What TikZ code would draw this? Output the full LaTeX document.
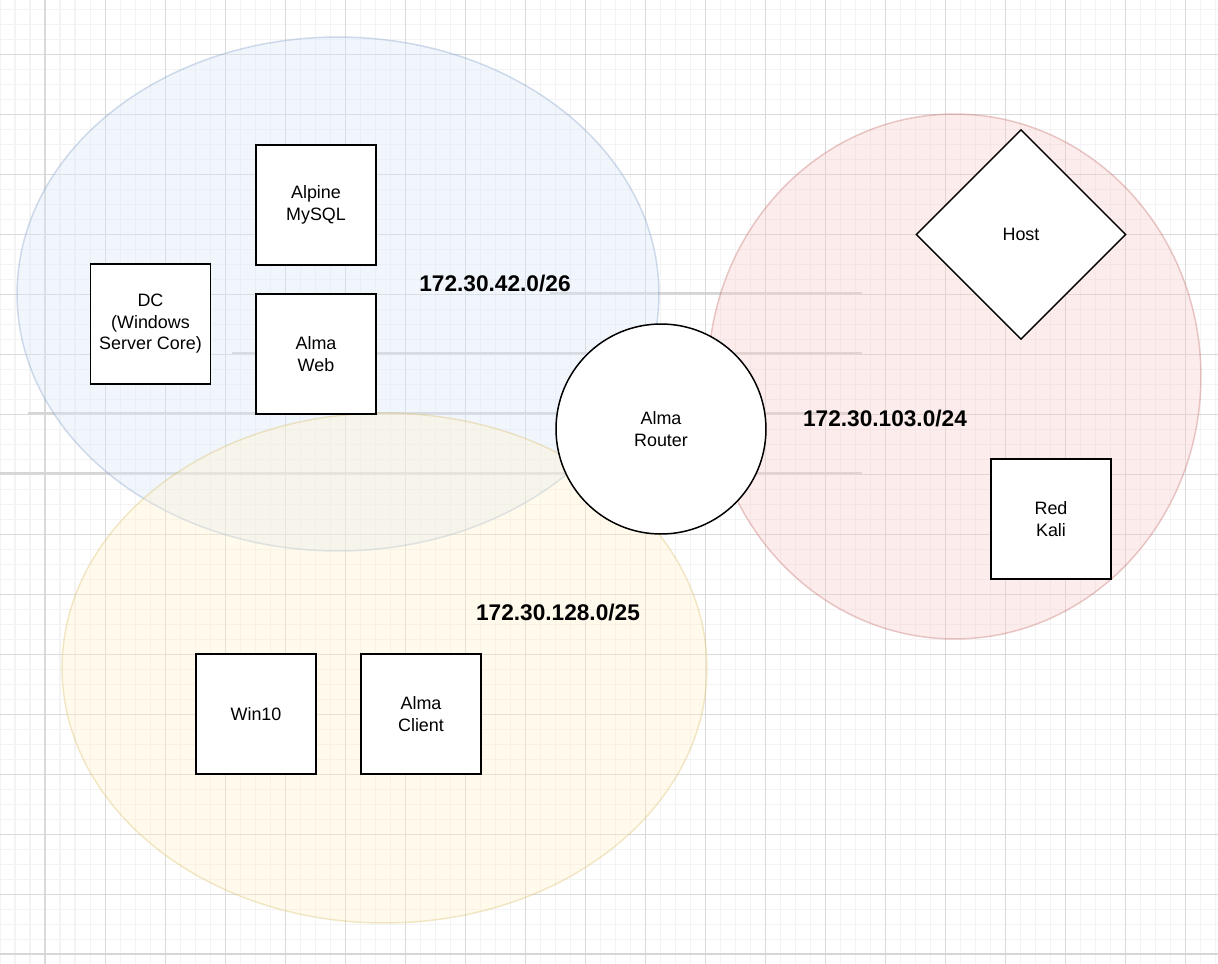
\documentclass[tikz,border=0pt]{standalone}
\usepackage{fontspec}
\setmainfont{Liberation Sans}
\usetikzlibrary{shapes.geometric}
\definecolor{minorgrid}{HTML}{F3F3F3}
\definecolor{majorgrid}{HTML}{DADADA}
\definecolor{pagegrid}{HTML}{D6D6D6}
\definecolor{bluefill}{HTML}{DAE8FC}
\definecolor{bluestroke}{HTML}{6C8EBF}
\definecolor{yellowfill}{HTML}{FFF2CC}
\definecolor{yellowstroke}{HTML}{D6B656}
\definecolor{redfill}{HTML}{F8CECC}
\definecolor{redstroke}{HTML}{B85450}
\tikzset{
  machine/.style={draw=black, line width=0.85pt, fill=white, minimum width=2.4cm, minimum height=2.4cm, inner sep=0pt, align=center, font=\fontsize{10.2}{12.25}\selectfont},
  hostshape/.style={diamond, aspect=1, draw=black, line width=0.85pt, fill=white, minimum width=4.2cm, minimum height=4.2cm, inner sep=0pt, font=\fontsize{10.2}{12.25}\selectfont},
  routershape/.style={circle, draw=black, line width=0.85pt, fill=white, minimum size=4.2cm, inner sep=0pt, align=center, font=\fontsize{10.2}{12.25}\selectfont},
  netlabel/.style={font=\bfseries\fontsize{12.9}{15}\selectfont, inner sep=0pt},
  zone/.style={line width=0.85pt, fill opacity=0.36, draw opacity=0.3},
}
\begin{document}
\begin{tikzpicture}[x=0.02cm, y=-0.02cm]
\useasboundingbox (0,0) rectangle (1218,964);
\fill[white] (0,0) rectangle (1218,964);
% minor grid
\foreach \gx in {0,15,...,1215} \draw[minorgrid, line width=0.57pt] (\gx,0) -- (\gx,964);
\foreach \gy in {9,24,...,964} \draw[minorgrid, line width=0.57pt] (0,\gy) -- (1218,\gy);
% major grid
\foreach \gx in {45,105,...,1185} \draw[majorgrid, line width=0.57pt] (\gx,0) -- (\gx,964);
\foreach \gy in {54,114,...,954} \draw[majorgrid, line width=0.57pt] (0,\gy) -- (1218,\gy);
% heavier page lines
\draw[pagegrid, line width=1.1pt] (550,293) -- (862,293);
\draw[pagegrid, line width=1.1pt] (232,353) -- (862,353);
\draw[pagegrid, line width=1.1pt] (28,413) -- (862,413);
\draw[pagegrid, line width=1.1pt] (0,473) -- (862,473);
\draw[pagegrid, line width=1.1pt] (0,954) -- (1218,954);
% zones
\draw[zone, fill=bluefill, draw=bluestroke] (338,294) ellipse [x radius=6.42cm, y radius=5.14cm];
\draw[zone, fill=yellowfill, draw=yellowstroke] (384.5,668) ellipse [x radius=6.45cm, y radius=5.10cm];
\draw[zone, fill=redfill, draw=redstroke] (954.5,376.5) ellipse [x radius=4.93cm, y radius=5.25cm];
% machines
\node[machine] (mysql) at (316,205) {Alpine\\MySQL};
\node[machine] (web) at (316,354) {Alma\\ Web};
\node[machine] (dc) at (150.5,324) {DC\\(Windows\\Server Core)};
\node[machine] (win10) at (256,714) {Win10};
\node[machine] (client) at (421,714) {Alma\\Client};
\node[machine] (kali) at (1051,519) {Red\\Kali};
\node[hostshape] (host) at (1021,234.5) {Host};
\node[routershape] (router) at (661,429) {Alma\\Router};
% network labels
\node[netlabel] (net42) at (495,284) {172.30.42.0/26};
\node[netlabel] (net103) at (885,419) {172.30.103.0/24};
\node[netlabel] (net128) at (558,613) {172.30.128.0/25};
\end{tikzpicture}
\end{document}
